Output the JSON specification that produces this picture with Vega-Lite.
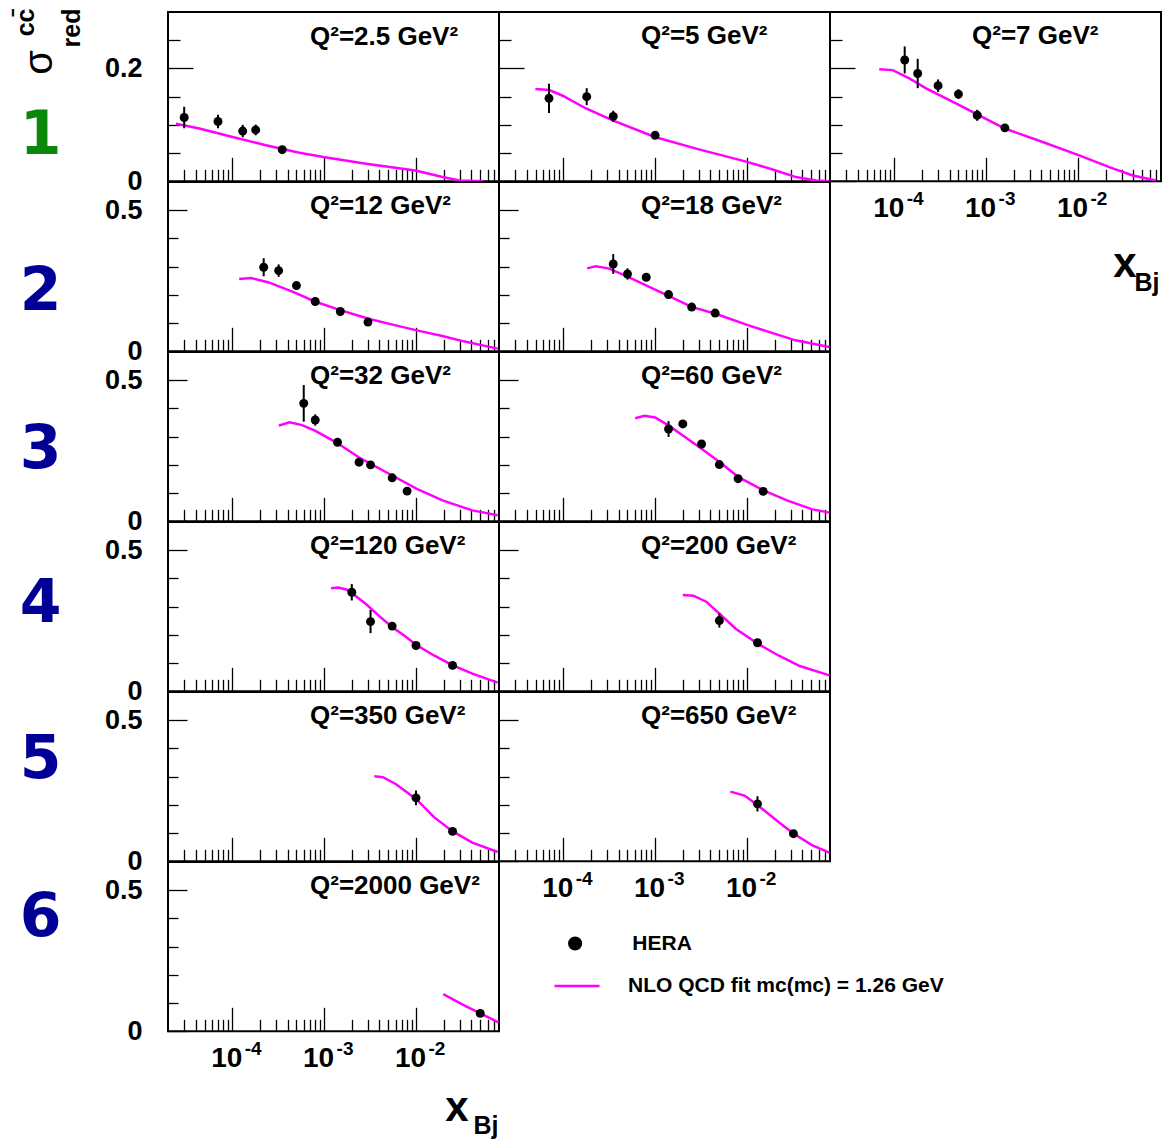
{
  "$schema": "https://vega.github.io/schema/vega-lite/v6.json",
  "background": "white",
  "padding": {"left": 12, "top": 7, "right": 0, "bottom": 0},
  "bounds": "flush",
  "spacing": 0,
  "columns": 3,
  "resolve": {"scale": {"x": "independent", "y": "independent", "fill": "independent", "stroke": "independent"}},
  "datasets": {
    "hera": [
      {"q2": 2.5, "x": 0.00003, "sigma": 0.113, "err": 0.019},
      {"q2": 2.5, "x": 0.00007, "sigma": 0.106, "err": 0.012},
      {"q2": 2.5, "x": 0.00013, "sigma": 0.089, "err": 0.011},
      {"q2": 2.5, "x": 0.00018, "sigma": 0.091, "err": 0.0095},
      {"q2": 2.5, "x": 0.00035, "sigma": 0.056, "err": 0.005},
      {"q2": 5, "x": 0.00007, "sigma": 0.147, "err": 0.026},
      {"q2": 5, "x": 0.00018, "sigma": 0.150, "err": 0.015},
      {"q2": 5, "x": 0.00035, "sigma": 0.115, "err": 0.010},
      {"q2": 5, "x": 0.001, "sigma": 0.0815, "err": 0.006},
      {"q2": 7, "x": 0.00013, "sigma": 0.215, "err": 0.024},
      {"q2": 7, "x": 0.00018, "sigma": 0.191, "err": 0.026},
      {"q2": 7, "x": 0.0003, "sigma": 0.1695, "err": 0.011},
      {"q2": 7, "x": 0.0005, "sigma": 0.1545, "err": 0.0086},
      {"q2": 7, "x": 0.0008, "sigma": 0.117, "err": 0.0098},
      {"q2": 7, "x": 0.0016, "sigma": 0.0947, "err": 0.006},
      {"q2": 12, "x": 0.00022, "sigma": 0.298, "err": 0.032},
      {"q2": 12, "x": 0.00032, "sigma": 0.286, "err": 0.022},
      {"q2": 12, "x": 0.0005, "sigma": 0.233, "err": 0.01},
      {"q2": 12, "x": 0.0008, "sigma": 0.1765, "err": 0.01},
      {"q2": 12, "x": 0.0015, "sigma": 0.141, "err": 0.01},
      {"q2": 12, "x": 0.003, "sigma": 0.1037, "err": 0.01},
      {"q2": 18, "x": 0.00035, "sigma": 0.3095, "err": 0.035},
      {"q2": 18, "x": 0.0005, "sigma": 0.274, "err": 0.02},
      {"q2": 18, "x": 0.0008, "sigma": 0.2625, "err": 0.01},
      {"q2": 18, "x": 0.0014, "sigma": 0.201, "err": 0.01},
      {"q2": 18, "x": 0.0025, "sigma": 0.1567, "err": 0.01},
      {"q2": 18, "x": 0.0045, "sigma": 0.1355, "err": 0.01},
      {"q2": 32, "x": 0.0006, "sigma": 0.418, "err": 0.065},
      {"q2": 32, "x": 0.0008, "sigma": 0.359, "err": 0.02},
      {"q2": 32, "x": 0.0014, "sigma": 0.280, "err": 0.01},
      {"q2": 32, "x": 0.0024, "sigma": 0.2096, "err": 0.01},
      {"q2": 32, "x": 0.0032, "sigma": 0.200, "err": 0.01},
      {"q2": 32, "x": 0.0055, "sigma": 0.154, "err": 0.01},
      {"q2": 32, "x": 0.008, "sigma": 0.107, "err": 0.01},
      {"q2": 60, "x": 0.0014, "sigma": 0.327, "err": 0.028},
      {"q2": 60, "x": 0.002, "sigma": 0.345, "err": 0.012},
      {"q2": 60, "x": 0.0032, "sigma": 0.274, "err": 0.01},
      {"q2": 60, "x": 0.005, "sigma": 0.201, "err": 0.01},
      {"q2": 60, "x": 0.008, "sigma": 0.151, "err": 0.01},
      {"q2": 60, "x": 0.015, "sigma": 0.106, "err": 0.01},
      {"q2": 120, "x": 0.002, "sigma": 0.351, "err": 0.029},
      {"q2": 120, "x": 0.0032, "sigma": 0.247, "err": 0.041},
      {"q2": 120, "x": 0.0055, "sigma": 0.231, "err": 0.01},
      {"q2": 120, "x": 0.01, "sigma": 0.1623, "err": 0.01},
      {"q2": 120, "x": 0.025, "sigma": 0.0918, "err": 0.01},
      {"q2": 200, "x": 0.005, "sigma": 0.2506, "err": 0.025},
      {"q2": 200, "x": 0.013, "sigma": 0.172, "err": 0.01},
      {"q2": 350, "x": 0.01, "sigma": 0.2248, "err": 0.026},
      {"q2": 350, "x": 0.025, "sigma": 0.106, "err": 0.01},
      {"q2": 650, "x": 0.013, "sigma": 0.2036, "err": 0.027},
      {"q2": 650, "x": 0.032, "sigma": 0.0978, "err": 0.01},
      {"q2": 2000, "x": 0.05, "sigma": 0.0635, "err": 0.01}
    ],
    "fit": [
      {"q2": 2.5, "x": 2.44e-5, "sigma": 0.102}, {"q2": 2.5, "x": 4.39e-5, "sigma": 0.0935}, {"q2": 2.5, "x": 1.01e-4, "sigma": 0.0786},
      {"q2": 2.5, "x": 2.33e-4, "sigma": 0.0638}, {"q2": 2.5, "x": 5.37e-4, "sigma": 0.0507}, {"q2": 2.5, "x": 9.79e-4, "sigma": 0.043},
      {"q2": 2.5, "x": 2.86e-3, "sigma": 0.0311}, {"q2": 2.5, "x": 9.82e-3, "sigma": 0.0192}, {"q2": 2.5, "x": 1.95e-2, "sigma": 0.0075},
      {"q2": 2.5, "x": 2.96e-2, "sigma": 0.0014}, {"q2": 2.5, "x": 5.31e-2, "sigma": 0.0},
      {"q2": 5, "x": 4.97e-5, "sigma": 0.1634}, {"q2": 5, "x": 7.05e-5, "sigma": 0.1616}, {"q2": 5, "x": 9.86e-5, "sigma": 0.1516},
      {"q2": 5, "x": 1.77e-4, "sigma": 0.129}, {"q2": 5, "x": 3.45e-4, "sigma": 0.108}, {"q2": 5, "x": 9.95e-4, "sigma": 0.0786},
      {"q2": 5, "x": 2.79e-3, "sigma": 0.0579}, {"q2": 5, "x": 9.57e-3, "sigma": 0.0353}, {"q2": 5, "x": 1.90e-2, "sigma": 0.021},
      {"q2": 5, "x": 3.41e-2, "sigma": 0.0075}, {"q2": 5, "x": 5.62e-2, "sigma": 0.0014}, {"q2": 5, "x": 0.079, "sigma": 0.0},
      {"q2": 7, "x": 6.87e-5, "sigma": 0.1985}, {"q2": 7, "x": 9.62e-5, "sigma": 0.197}, {"q2": 7, "x": 1.46e-4, "sigma": 0.1825},
      {"q2": 7, "x": 2.22e-4, "sigma": 0.1647}, {"q2": 7, "x": 5.11e-4, "sigma": 0.135}, {"q2": 7, "x": 8.09e-4, "sigma": 0.118},
      {"q2": 7, "x": 1.60e-3, "sigma": 0.0935}, {"q2": 7, "x": 4.12e-3, "sigma": 0.0697}, {"q2": 7, "x": 1.03e-2, "sigma": 0.046},
      {"q2": 7, "x": 2.19e-2, "sigma": 0.0252}, {"q2": 7, "x": 3.94e-2, "sigma": 0.0104}, {"q2": 7, "x": 7.05e-2, "sigma": 0.0014},
      {"q2": 12, "x": 1.19e-4, "sigma": 0.2566}, {"q2": 12, "x": 1.60e-4, "sigma": 0.260}, {"q2": 12, "x": 2.45e-4, "sigma": 0.245},
      {"q2": 12, "x": 4.66e-4, "sigma": 0.2096}, {"q2": 12, "x": 7.93e-4, "sigma": 0.1765}, {"q2": 12, "x": 1.47e-3, "sigma": 0.147},
      {"q2": 12, "x": 3.04e-3, "sigma": 0.1154}, {"q2": 12, "x": 6.01e-3, "sigma": 0.0918}, {"q2": 12, "x": 1.02e-2, "sigma": 0.0741},
      {"q2": 12, "x": 1.94e-2, "sigma": 0.0543}, {"q2": 12, "x": 3.30e-2, "sigma": 0.0353}, {"q2": 12, "x": 7.76e-2, "sigma": 0.0095},
      {"q2": 18, "x": 1.82e-4, "sigma": 0.294}, {"q2": 18, "x": 2.25e-4, "sigma": 0.301}, {"q2": 18, "x": 3.10e-4, "sigma": 0.294},
      {"q2": 18, "x": 4.74e-4, "sigma": 0.268}, {"q2": 18, "x": 8.07e-4, "sigma": 0.233}, {"q2": 18, "x": 1.38e-3, "sigma": 0.1976},
      {"q2": 18, "x": 2.53e-3, "sigma": 0.1567}, {"q2": 18, "x": 4.55e-3, "sigma": 0.133}, {"q2": 18, "x": 1.04e-2, "sigma": 0.0918},
      {"q2": 18, "x": 1.98e-2, "sigma": 0.0625}, {"q2": 18, "x": 3.37e-2, "sigma": 0.0388}, {"q2": 18, "x": 7.89e-2, "sigma": 0.0155},
      {"q2": 32, "x": 3.21e-4, "sigma": 0.339}, {"q2": 32, "x": 4.19e-4, "sigma": 0.351}, {"q2": 32, "x": 5.75e-4, "sigma": 0.341},
      {"q2": 32, "x": 7.93e-4, "sigma": 0.321}, {"q2": 32, "x": 1.35e-3, "sigma": 0.280}, {"q2": 32, "x": 2.38e-3, "sigma": 0.227},
      {"q2": 32, "x": 3.21e-3, "sigma": 0.2036}, {"q2": 32, "x": 5.52e-3, "sigma": 0.1623}, {"q2": 32, "x": 1.02e-2, "sigma": 0.115},
      {"q2": 32, "x": 1.94e-2, "sigma": 0.074}, {"q2": 32, "x": 4.10e-2, "sigma": 0.0388}, {"q2": 32, "x": 7.76e-2, "sigma": 0.0212},
      {"q2": 60, "x": 6.07e-4, "sigma": 0.365}, {"q2": 60, "x": 7.66e-4, "sigma": 0.374}, {"q2": 60, "x": 1.00e-3, "sigma": 0.368},
      {"q2": 60, "x": 1.41e-3, "sigma": 0.339}, {"q2": 60, "x": 2.02e-3, "sigma": 0.3035}, {"q2": 60, "x": 3.23e-3, "sigma": 0.2566},
      {"q2": 60, "x": 5.06e-3, "sigma": 0.2096}, {"q2": 60, "x": 8.07e-3, "sigma": 0.1567}, {"q2": 60, "x": 1.51e-2, "sigma": 0.1094},
      {"q2": 60, "x": 2.72e-2, "sigma": 0.074}, {"q2": 60, "x": 5.15e-2, "sigma": 0.0423}, {"q2": 60, "x": 7.89e-2, "sigma": 0.0307},
      {"q2": 120, "x": 1.19e-3, "sigma": 0.365}, {"q2": 120, "x": 1.43e-3, "sigma": 0.368}, {"q2": 120, "x": 1.77e-3, "sigma": 0.360},
      {"q2": 120, "x": 2.00e-3, "sigma": 0.348}, {"q2": 120, "x": 2.85e-3, "sigma": 0.3095}, {"q2": 120, "x": 3.93e-3, "sigma": 0.268},
      {"q2": 120, "x": 5.52e-3, "sigma": 0.227}, {"q2": 120, "x": 7.43e-3, "sigma": 0.1976}, {"q2": 120, "x": 1.00e-2, "sigma": 0.165},
      {"q2": 120, "x": 1.57e-2, "sigma": 0.127}, {"q2": 120, "x": 2.51e-2, "sigma": 0.0918}, {"q2": 120, "x": 4.10e-2, "sigma": 0.0625},
      {"q2": 120, "x": 7.76e-2, "sigma": 0.0307},
      {"q2": 200, "x": 2.00e-3, "sigma": 0.341}, {"q2": 200, "x": 2.61e-3, "sigma": 0.339}, {"q2": 200, "x": 3.60e-3, "sigma": 0.3176},
      {"q2": 200, "x": 5.06e-3, "sigma": 0.274}, {"q2": 200, "x": 7.59e-3, "sigma": 0.221}, {"q2": 200, "x": 1.32e-2, "sigma": 0.168},
      {"q2": 200, "x": 2.20e-2, "sigma": 0.127}, {"q2": 200, "x": 3.75e-2, "sigma": 0.0896}, {"q2": 200, "x": 7.89e-2, "sigma": 0.0565},
      {"q2": 350, "x": 3.52e-3, "sigma": 0.301}, {"q2": 350, "x": 4.36e-3, "sigma": 0.298}, {"q2": 350, "x": 6.01e-3, "sigma": 0.274},
      {"q2": 350, "x": 1.00e-2, "sigma": 0.221}, {"q2": 350, "x": 1.57e-2, "sigma": 0.1565}, {"q2": 350, "x": 2.51e-2, "sigma": 0.106},
      {"q2": 350, "x": 4.10e-2, "sigma": 0.066}, {"q2": 350, "x": 7.76e-2, "sigma": 0.033},
      {"q2": 650, "x": 6.59e-3, "sigma": 0.247}, {"q2": 650, "x": 9.38e-3, "sigma": 0.233}, {"q2": 650, "x": 1.32e-2, "sigma": 0.1976},
      {"q2": 650, "x": 2.20e-2, "sigma": 0.139}, {"q2": 650, "x": 3.23e-2, "sigma": 0.0978}, {"q2": 650, "x": 5.15e-2, "sigma": 0.0565},
      {"q2": 650, "x": 7.89e-2, "sigma": 0.0307},
      {"q2": 2000, "x": 1.98e-2, "sigma": 0.1316}, {"q2": 2000, "x": 3.30e-2, "sigma": 0.0928}, {"q2": 2000, "x": 5.00e-2, "sigma": 0.0635},
      {"q2": 2000, "x": 7.91e-2, "sigma": 0.0318}
    ]
  },
  "concat": [
    {
      "width": 331, "height": 169.3,
      "title": {"text": "Q²=2.5 GeV²", "offset": -42},
      "resolve": {"axis": {"y": "independent"}},
      "encoding": {
        "x": {"field": "x", "type": "quantitative", "scale": {"type": "log", "domain": [0.00002, 0.08], "nice": false},
          "axis": {"values": [0.00003,0.00004,0.00005,0.00006,0.00007,0.00008,0.00009,0.0001,0.0002,0.0003,0.0004,0.0005,0.0006,0.0007,0.0008,0.0009,0.001,0.002,0.003,0.004,0.005,0.006,0.007,0.008,0.009,0.01,0.02,0.03,0.04,0.05,0.06,0.07],
            "tickSize": {"condition": {"test": "datum.value == 0.0001 || datum.value == 0.001 || datum.value == 0.01", "value": -24}, "value": -12},
            "labels": false, "title": null}},
        "y": {"field": "sigma", "type": "quantitative", "scale": {"domain": [0, 0.3], "nice": false},
          "axis": {"orient": "left", "values": [0,0.05,0.1,0.15,0.2,0.25],
            "tickSize": {"condition": {"test": "datum.value == 0 || datum.value == 0.2", "value": -25}, "value": -12},
            "labelExpr": "datum.value == 0 ? '0' : datum.value == 0.2 ? '0.2' : ''", "labelPadding": 51,
            "title": "1", "titleColor": "#0a870a", "titleAngle": 0, "titleAlign": "center", "titleBaseline": "middle", "titleX": -128, "titleY": 123}}
      },
      "layer": [
        {
          "data": {"name": "fit"}, "transform": [{"filter": "datum.q2 == 2.5"}],
          "mark": {"type": "line", "color": "#ff00ff", "strokeWidth": 2.5, "clip": true},
          "encoding": {
            "y": {"field": "sigma", "type": "quantitative",
              "axis": {"orient": "left", "ticks": false, "labels": false, "title": "σ", "titleFont": "Liberation Sans", "titleFontWeight": "normal", "titleFontSize": 40, "titleAngle": 270, "titleAlign": "center", "titleBaseline": "middle", "titleX": -129, "titleY": 50}}
          }
        },
        {
          "data": {"name": "hera"}, "transform": [{"filter": "datum.q2 == 2.5"}],
          "mark": {"type": "errorbar", "color": "black", "thickness": 2},
          "encoding": {
            "y": {"field": "sigma", "type": "quantitative",
              "axis": {"orient": "left", "ticks": false, "labels": false, "title": ["cc̄", "red"], "titleFont": "Liberation Sans", "titleFontSize": 25, "titleAngle": 270, "titleX": -155, "titleY": -4, "titleAlign": "right", "titleBaseline": "top", "titleLineHeight": 46}},
            "yError": {"field": "err"}
          }
        },
        {
          "data": {"name": "hera"}, "transform": [{"filter": "datum.q2 == 2.5"}],
          "mark": {"type": "point", "filled": true, "color": "black", "size": 80, "opacity": 1}
        }
      ]
    },
    {
      "width": 331, "height": 169.3,
      "title": "Q²=5 GeV²",
      "encoding": {
        "x": {"field": "x", "type": "quantitative", "scale": {"type": "log", "domain": [0.00002, 0.08], "nice": false},
          "axis": {"values": [0.00003,0.00004,0.00005,0.00006,0.00007,0.00008,0.00009,0.0001,0.0002,0.0003,0.0004,0.0005,0.0006,0.0007,0.0008,0.0009,0.001,0.002,0.003,0.004,0.005,0.006,0.007,0.008,0.009,0.01,0.02,0.03,0.04,0.05,0.06,0.07],
            "tickSize": {"condition": {"test": "datum.value == 0.0001 || datum.value == 0.001 || datum.value == 0.01", "value": -24}, "value": -12},
            "labels": false, "title": null}},
        "y": {"field": "sigma", "type": "quantitative", "scale": {"domain": [0, 0.3], "nice": false},
          "axis": {"values": [0,0.05,0.1,0.15,0.2,0.25],
            "tickSize": {"condition": {"test": "datum.value == 0 || datum.value == 0.2", "value": -25}, "value": -12},
            "labels": false, "title": null}}
      },
      "layer": [
        {"data": {"name": "fit"}, "transform": [{"filter": "datum.q2 == 5"}], "mark": {"type": "line", "color": "#ff00ff", "strokeWidth": 2.5, "clip": true}},
        {"data": {"name": "hera"}, "transform": [{"filter": "datum.q2 == 5"}], "mark": {"type": "errorbar", "color": "black", "thickness": 2}, "encoding": {"yError": {"field": "err"}}},
        {"data": {"name": "hera"}, "transform": [{"filter": "datum.q2 == 5"}], "mark": {"type": "point", "filled": true, "color": "black", "size": 80, "opacity": 1}}
      ]
    },
    {
      "width": 331, "height": 169.3,
      "title": "Q²=7 GeV²",
      "resolve": {"axis": {"x": "independent"}},
      "encoding": {
        "x": {"field": "x", "type": "quantitative", "scale": {"type": "log", "domain": [0.00002, 0.08], "nice": false},
          "axis": {"orient": "bottom", "values": [0.00003,0.00004,0.00005,0.00006,0.00007,0.00008,0.00009,0.0001,0.0002,0.0003,0.0004,0.0005,0.0006,0.0007,0.0008,0.0009,0.001,0.002,0.003,0.004,0.005,0.006,0.007,0.008,0.009,0.01,0.02,0.03,0.04,0.05,0.06,0.07],
            "tickSize": {"condition": {"test": "datum.value == 0.0001 || datum.value == 0.001 || datum.value == 0.01", "value": -24}, "value": -12},
            "labelExpr": "datum.value == 0.0001 || datum.value == 0.001 || datum.value == 0.01 ? '10' : ''", "labelOffset": -6,
            "title": "x", "titleFontSize": 42, "titleX": 306, "titleY": 95}},
        "y": {"field": "sigma", "type": "quantitative", "scale": {"domain": [0, 0.3], "nice": false},
          "axis": {"values": [0,0.05,0.1,0.15,0.2,0.25],
            "tickSize": {"condition": {"test": "datum.value == 0 || datum.value == 0.2", "value": -25}, "value": -12},
            "labels": false, "title": null}}
      },
      "layer": [
        {
          "data": {"name": "fit"}, "transform": [{"filter": "datum.q2 == 7"}],
          "mark": {"type": "line", "color": "#ff00ff", "strokeWidth": 2.5, "clip": true},
          "encoding": {
            "x": {"field": "x", "type": "quantitative",
              "axis": {"orient": "bottom", "ticks": false, "values": [0.0001, 0.001, 0.01],
                "labelExpr": "datum.value == 0.0001 ? '-4' : datum.value == 0.001 ? '-3' : '-2'",
                "labelFontSize": 19, "labelAlign": "left", "labelBaseline": "top", "labelOffset": 12, "labelPadding": 8,
                "title": "Bj", "titleFontSize": 25, "titleX": 329, "titleY": 109}}
          }
        },
        {
          "data": {"name": "hera"}, "transform": [{"filter": "datum.q2 == 7"}],
          "mark": {"type": "errorbar", "color": "black", "thickness": 2},
          "encoding": {"x": {"field": "x", "type": "quantitative", "axis": null}, "yError": {"field": "err"}}
        },
        {"data": {"name": "hera"}, "transform": [{"filter": "datum.q2 == 7"}], "mark": {"type": "point", "filled": true, "color": "black", "size": 80, "opacity": 1}}
      ]
    },
    {
      "width": 331, "height": 169.3,
      "title": "Q²=12 GeV²",
      "encoding": {
        "x": {"field": "x", "type": "quantitative", "scale": {"type": "log", "domain": [0.00002, 0.08], "nice": false},
          "axis": {"values": [0.00003,0.00004,0.00005,0.00006,0.00007,0.00008,0.00009,0.0001,0.0002,0.0003,0.0004,0.0005,0.0006,0.0007,0.0008,0.0009,0.001,0.002,0.003,0.004,0.005,0.006,0.007,0.008,0.009,0.01,0.02,0.03,0.04,0.05,0.06,0.07],
            "tickSize": {"condition": {"test": "datum.value == 0.0001 || datum.value == 0.001 || datum.value == 0.01", "value": -24}, "value": -12},
            "labels": false, "title": null}},
        "y": {"field": "sigma", "type": "quantitative", "scale": {"domain": [0, 0.6], "nice": false},
          "axis": {"values": [0,0.1,0.2,0.3,0.4,0.5],
            "tickSize": {"condition": {"test": "datum.value == 0 || datum.value == 0.5", "value": -19}, "value": -10},
            "labelExpr": "datum.value == 0 ? '0' : datum.value == 0.5 ? '0.5' : ''", "labelPadding": 45,
            "title": "2", "titleColor": "#000096", "titleAngle": 0, "titleAlign": "center", "titleBaseline": "middle", "titleX": -128, "titleY": 109}}
      },
      "layer": [
        {"data": {"name": "fit"}, "transform": [{"filter": "datum.q2 == 12"}], "mark": {"type": "line", "color": "#ff00ff", "strokeWidth": 2.5, "clip": true}},
        {"data": {"name": "hera"}, "transform": [{"filter": "datum.q2 == 12"}], "mark": {"type": "errorbar", "color": "black", "thickness": 2}, "encoding": {"yError": {"field": "err"}}},
        {"data": {"name": "hera"}, "transform": [{"filter": "datum.q2 == 12"}], "mark": {"type": "point", "filled": true, "color": "black", "size": 80, "opacity": 1}}
      ]
    },
    {
      "width": 331, "height": 169.3,
      "title": "Q²=18 GeV²",
      "encoding": {
        "x": {"field": "x", "type": "quantitative", "scale": {"type": "log", "domain": [0.00002, 0.08], "nice": false},
          "axis": {"values": [0.00003,0.00004,0.00005,0.00006,0.00007,0.00008,0.00009,0.0001,0.0002,0.0003,0.0004,0.0005,0.0006,0.0007,0.0008,0.0009,0.001,0.002,0.003,0.004,0.005,0.006,0.007,0.008,0.009,0.01,0.02,0.03,0.04,0.05,0.06,0.07],
            "tickSize": {"condition": {"test": "datum.value == 0.0001 || datum.value == 0.001 || datum.value == 0.01", "value": -24}, "value": -12},
            "labels": false, "title": null}},
        "y": {"field": "sigma", "type": "quantitative", "scale": {"domain": [0, 0.6], "nice": false},
          "axis": {"values": [0,0.1,0.2,0.3,0.4,0.5],
            "tickSize": {"condition": {"test": "datum.value == 0 || datum.value == 0.5", "value": -19}, "value": -10},
            "labels": false, "title": null}}
      },
      "layer": [
        {"data": {"name": "fit"}, "transform": [{"filter": "datum.q2 == 18"}], "mark": {"type": "line", "color": "#ff00ff", "strokeWidth": 2.5, "clip": true}},
        {"data": {"name": "hera"}, "transform": [{"filter": "datum.q2 == 18"}], "mark": {"type": "errorbar", "color": "black", "thickness": 2}, "encoding": {"yError": {"field": "err"}}},
        {"data": {"name": "hera"}, "transform": [{"filter": "datum.q2 == 18"}], "mark": {"type": "point", "filled": true, "color": "black", "size": 80, "opacity": 1}}
      ]
    },
    {"width": 331, "height": 169.3, "view": {"stroke": null}, "data": {"values": []}, "mark": "point"},
    {
      "width": 331, "height": 169.3,
      "title": "Q²=32 GeV²",
      "encoding": {
        "x": {"field": "x", "type": "quantitative", "scale": {"type": "log", "domain": [0.00002, 0.08], "nice": false},
          "axis": {"values": [0.00003,0.00004,0.00005,0.00006,0.00007,0.00008,0.00009,0.0001,0.0002,0.0003,0.0004,0.0005,0.0006,0.0007,0.0008,0.0009,0.001,0.002,0.003,0.004,0.005,0.006,0.007,0.008,0.009,0.01,0.02,0.03,0.04,0.05,0.06,0.07],
            "tickSize": {"condition": {"test": "datum.value == 0.0001 || datum.value == 0.001 || datum.value == 0.01", "value": -24}, "value": -12},
            "labels": false, "title": null}},
        "y": {"field": "sigma", "type": "quantitative", "scale": {"domain": [0, 0.6], "nice": false},
          "axis": {"values": [0,0.1,0.2,0.3,0.4,0.5],
            "tickSize": {"condition": {"test": "datum.value == 0 || datum.value == 0.5", "value": -19}, "value": -10},
            "labelExpr": "datum.value == 0 ? '0' : datum.value == 0.5 ? '0.5' : ''", "labelPadding": 45,
            "title": "3", "titleColor": "#000096", "titleAngle": 0, "titleAlign": "center", "titleBaseline": "middle", "titleX": -128, "titleY": 97}}
      },
      "layer": [
        {"data": {"name": "fit"}, "transform": [{"filter": "datum.q2 == 32"}], "mark": {"type": "line", "color": "#ff00ff", "strokeWidth": 2.5, "clip": true}},
        {"data": {"name": "hera"}, "transform": [{"filter": "datum.q2 == 32"}], "mark": {"type": "errorbar", "color": "black", "thickness": 2}, "encoding": {"yError": {"field": "err"}}},
        {"data": {"name": "hera"}, "transform": [{"filter": "datum.q2 == 32"}], "mark": {"type": "point", "filled": true, "color": "black", "size": 80, "opacity": 1}}
      ]
    },
    {
      "width": 331, "height": 169.3,
      "title": "Q²=60 GeV²",
      "encoding": {
        "x": {"field": "x", "type": "quantitative", "scale": {"type": "log", "domain": [0.00002, 0.08], "nice": false},
          "axis": {"values": [0.00003,0.00004,0.00005,0.00006,0.00007,0.00008,0.00009,0.0001,0.0002,0.0003,0.0004,0.0005,0.0006,0.0007,0.0008,0.0009,0.001,0.002,0.003,0.004,0.005,0.006,0.007,0.008,0.009,0.01,0.02,0.03,0.04,0.05,0.06,0.07],
            "tickSize": {"condition": {"test": "datum.value == 0.0001 || datum.value == 0.001 || datum.value == 0.01", "value": -24}, "value": -12},
            "labels": false, "title": null}},
        "y": {"field": "sigma", "type": "quantitative", "scale": {"domain": [0, 0.6], "nice": false},
          "axis": {"values": [0,0.1,0.2,0.3,0.4,0.5],
            "tickSize": {"condition": {"test": "datum.value == 0 || datum.value == 0.5", "value": -19}, "value": -10},
            "labels": false, "title": null}}
      },
      "layer": [
        {"data": {"name": "fit"}, "transform": [{"filter": "datum.q2 == 60"}], "mark": {"type": "line", "color": "#ff00ff", "strokeWidth": 2.5, "clip": true}},
        {"data": {"name": "hera"}, "transform": [{"filter": "datum.q2 == 60"}], "mark": {"type": "errorbar", "color": "black", "thickness": 2}, "encoding": {"yError": {"field": "err"}}},
        {"data": {"name": "hera"}, "transform": [{"filter": "datum.q2 == 60"}], "mark": {"type": "point", "filled": true, "color": "black", "size": 80, "opacity": 1}}
      ]
    },
    {"width": 331, "height": 169.3, "view": {"stroke": null}, "data": {"values": []}, "mark": "point"},
    {
      "width": 331, "height": 169.3,
      "title": "Q²=120 GeV²",
      "encoding": {
        "x": {"field": "x", "type": "quantitative", "scale": {"type": "log", "domain": [0.00002, 0.08], "nice": false},
          "axis": {"values": [0.00003,0.00004,0.00005,0.00006,0.00007,0.00008,0.00009,0.0001,0.0002,0.0003,0.0004,0.0005,0.0006,0.0007,0.0008,0.0009,0.001,0.002,0.003,0.004,0.005,0.006,0.007,0.008,0.009,0.01,0.02,0.03,0.04,0.05,0.06,0.07],
            "tickSize": {"condition": {"test": "datum.value == 0.0001 || datum.value == 0.001 || datum.value == 0.01", "value": -24}, "value": -12},
            "labels": false, "title": null}},
        "y": {"field": "sigma", "type": "quantitative", "scale": {"domain": [0, 0.6], "nice": false},
          "axis": {"values": [0,0.1,0.2,0.3,0.4,0.5],
            "tickSize": {"condition": {"test": "datum.value == 0 || datum.value == 0.5", "value": -19}, "value": -10},
            "labelExpr": "datum.value == 0 ? '0' : datum.value == 0.5 ? '0.5' : ''", "labelPadding": 45,
            "title": "4", "titleColor": "#000096", "titleAngle": 0, "titleAlign": "center", "titleBaseline": "middle", "titleX": -128, "titleY": 81}}
      },
      "layer": [
        {"data": {"name": "fit"}, "transform": [{"filter": "datum.q2 == 120"}], "mark": {"type": "line", "color": "#ff00ff", "strokeWidth": 2.5, "clip": true}},
        {"data": {"name": "hera"}, "transform": [{"filter": "datum.q2 == 120"}], "mark": {"type": "errorbar", "color": "black", "thickness": 2}, "encoding": {"yError": {"field": "err"}}},
        {"data": {"name": "hera"}, "transform": [{"filter": "datum.q2 == 120"}], "mark": {"type": "point", "filled": true, "color": "black", "size": 80, "opacity": 1}}
      ]
    },
    {
      "width": 331, "height": 169.3,
      "title": "Q²=200 GeV²",
      "encoding": {
        "x": {"field": "x", "type": "quantitative", "scale": {"type": "log", "domain": [0.00002, 0.08], "nice": false},
          "axis": {"values": [0.00003,0.00004,0.00005,0.00006,0.00007,0.00008,0.00009,0.0001,0.0002,0.0003,0.0004,0.0005,0.0006,0.0007,0.0008,0.0009,0.001,0.002,0.003,0.004,0.005,0.006,0.007,0.008,0.009,0.01,0.02,0.03,0.04,0.05,0.06,0.07],
            "tickSize": {"condition": {"test": "datum.value == 0.0001 || datum.value == 0.001 || datum.value == 0.01", "value": -24}, "value": -12},
            "labels": false, "title": null}},
        "y": {"field": "sigma", "type": "quantitative", "scale": {"domain": [0, 0.6], "nice": false},
          "axis": {"values": [0,0.1,0.2,0.3,0.4,0.5],
            "tickSize": {"condition": {"test": "datum.value == 0 || datum.value == 0.5", "value": -19}, "value": -10},
            "labels": false, "title": null}}
      },
      "layer": [
        {"data": {"name": "fit"}, "transform": [{"filter": "datum.q2 == 200"}], "mark": {"type": "line", "color": "#ff00ff", "strokeWidth": 2.5, "clip": true}},
        {"data": {"name": "hera"}, "transform": [{"filter": "datum.q2 == 200"}], "mark": {"type": "errorbar", "color": "black", "thickness": 2}, "encoding": {"yError": {"field": "err"}}},
        {"data": {"name": "hera"}, "transform": [{"filter": "datum.q2 == 200"}], "mark": {"type": "point", "filled": true, "color": "black", "size": 80, "opacity": 1}}
      ]
    },
    {"width": 331, "height": 169.3, "view": {"stroke": null}, "data": {"values": []}, "mark": "point"},
    {
      "width": 331, "height": 169.3,
      "title": "Q²=350 GeV²",
      "encoding": {
        "x": {"field": "x", "type": "quantitative", "scale": {"type": "log", "domain": [0.00002, 0.08], "nice": false},
          "axis": {"values": [0.00003,0.00004,0.00005,0.00006,0.00007,0.00008,0.00009,0.0001,0.0002,0.0003,0.0004,0.0005,0.0006,0.0007,0.0008,0.0009,0.001,0.002,0.003,0.004,0.005,0.006,0.007,0.008,0.009,0.01,0.02,0.03,0.04,0.05,0.06,0.07],
            "tickSize": {"condition": {"test": "datum.value == 0.0001 || datum.value == 0.001 || datum.value == 0.01", "value": -24}, "value": -12},
            "labels": false, "title": null}},
        "y": {"field": "sigma", "type": "quantitative", "scale": {"domain": [0, 0.6], "nice": false},
          "axis": {"values": [0,0.1,0.2,0.3,0.4,0.5],
            "tickSize": {"condition": {"test": "datum.value == 0 || datum.value == 0.5", "value": -19}, "value": -10},
            "labelExpr": "datum.value == 0 ? '0' : datum.value == 0.5 ? '0.5' : ''", "labelPadding": 45,
            "title": "5", "titleColor": "#000096", "titleAngle": 0, "titleAlign": "center", "titleBaseline": "middle", "titleX": -128, "titleY": 67}}
      },
      "layer": [
        {"data": {"name": "fit"}, "transform": [{"filter": "datum.q2 == 350"}], "mark": {"type": "line", "color": "#ff00ff", "strokeWidth": 2.5, "clip": true}},
        {"data": {"name": "hera"}, "transform": [{"filter": "datum.q2 == 350"}], "mark": {"type": "errorbar", "color": "black", "thickness": 2}, "encoding": {"yError": {"field": "err"}}},
        {"data": {"name": "hera"}, "transform": [{"filter": "datum.q2 == 350"}], "mark": {"type": "point", "filled": true, "color": "black", "size": 80, "opacity": 1}}
      ]
    },
    {
      "width": 331, "height": 169.3,
      "title": "Q²=650 GeV²",
      "resolve": {"axis": {"x": "independent"}},
      "encoding": {
        "x": {"field": "x", "type": "quantitative", "scale": {"type": "log", "domain": [0.00002, 0.08], "nice": false},
          "axis": {"orient": "bottom", "values": [0.00003,0.00004,0.00005,0.00006,0.00007,0.00008,0.00009,0.0001,0.0002,0.0003,0.0004,0.0005,0.0006,0.0007,0.0008,0.0009,0.001,0.002,0.003,0.004,0.005,0.006,0.007,0.008,0.009,0.01,0.02,0.03,0.04,0.05,0.06,0.07],
            "tickSize": {"condition": {"test": "datum.value == 0.0001 || datum.value == 0.001 || datum.value == 0.01", "value": -24}, "value": -12},
            "labelExpr": "datum.value == 0.0001 || datum.value == 0.001 || datum.value == 0.01 ? '10' : ''", "labelOffset": -6,
            "title": null}},
        "y": {"field": "sigma", "type": "quantitative", "scale": {"domain": [0, 0.6], "nice": false},
          "axis": {"values": [0,0.1,0.2,0.3,0.4,0.5],
            "tickSize": {"condition": {"test": "datum.value == 0 || datum.value == 0.5", "value": -19}, "value": -10},
            "labels": false, "title": null}}
      },
      "layer": [
        {
          "data": {"name": "fit"}, "transform": [{"filter": "datum.q2 == 650"}],
          "mark": {"type": "line", "strokeWidth": 2.5, "clip": true},
          "encoding": {
            "x": {"field": "x", "type": "quantitative",
              "axis": {"orient": "bottom", "ticks": false, "values": [0.0001, 0.001, 0.01],
                "labelExpr": "datum.value == 0.0001 ? '-4' : datum.value == 0.001 ? '-3' : '-2'",
                "labelFontSize": 19, "labelAlign": "left", "labelBaseline": "top", "labelOffset": 12, "labelPadding": 8,
                "title": null}},
            "stroke": {"datum": "NLO QCD fit mc(mc) = 1.26 GeV", "type": "nominal",
              "scale": {"range": ["#ff00ff"]},
              "legend": {"title": null, "orient": "none", "legendX": 54, "legendY": 270, "symbolType": "stroke", "symbolSize": 2025,
                "symbolStrokeWidth": 2.5, "labelOffset": 27}}
          }
        },
        {
          "data": {"name": "hera"}, "transform": [{"filter": "datum.q2 == 650"}],
          "mark": {"type": "errorbar", "color": "black", "thickness": 2},
          "encoding": {"x": {"field": "x", "type": "quantitative", "axis": null}, "yError": {"field": "err"}}
        },
        {
          "data": {"name": "hera"}, "transform": [{"filter": "datum.q2 == 650"}],
          "mark": {"type": "point", "filled": true, "size": 80, "opacity": 1},
          "encoding": {
            "fill": {"datum": "HERA", "type": "nominal",
              "scale": {"range": ["black"]},
              "legend": {"title": null, "orient": "none", "legendX": 65.6, "legendY": 241, "symbolType": "circle", "symbolSize": 200,
                "symbolStrokeWidth": 0, "labelOffset": 46.7}}
          }
        }
      ]
    },
    {"width": 331, "height": 169.3, "view": {"stroke": null}, "data": {"values": []}, "mark": "point"},
    {
      "width": 331, "height": 169.3,
      "title": "Q²=2000 GeV²",
      "resolve": {"axis": {"x": "independent"}},
      "encoding": {
        "x": {"field": "x", "type": "quantitative", "scale": {"type": "log", "domain": [0.00002, 0.08], "nice": false},
          "axis": {"orient": "bottom", "values": [0.00003,0.00004,0.00005,0.00006,0.00007,0.00008,0.00009,0.0001,0.0002,0.0003,0.0004,0.0005,0.0006,0.0007,0.0008,0.0009,0.001,0.002,0.003,0.004,0.005,0.006,0.007,0.008,0.009,0.01,0.02,0.03,0.04,0.05,0.06,0.07],
            "tickSize": {"condition": {"test": "datum.value == 0.0001 || datum.value == 0.001 || datum.value == 0.01", "value": -24}, "value": -12},
            "labelExpr": "datum.value == 0.0001 || datum.value == 0.001 || datum.value == 0.01 ? '10' : ''", "labelOffset": -6,
            "title": "x", "titleFontSize": 42, "titleX": 300, "titleY": 89}},
        "y": {"field": "sigma", "type": "quantitative", "scale": {"domain": [0, 0.6], "nice": false},
          "axis": {"values": [0,0.1,0.2,0.3,0.4,0.5],
            "tickSize": {"condition": {"test": "datum.value == 0 || datum.value == 0.5", "value": -19}, "value": -10},
            "labelExpr": "datum.value == 0 ? '0' : datum.value == 0.5 ? '0.5' : ''", "labelPadding": 45,
            "title": "6", "titleColor": "#000096", "titleAngle": 0, "titleAlign": "center", "titleBaseline": "middle", "titleX": -128, "titleY": 55}}
      },
      "layer": [
        {
          "data": {"name": "fit"}, "transform": [{"filter": "datum.q2 == 2000"}],
          "mark": {"type": "line", "color": "#ff00ff", "strokeWidth": 2.5, "clip": true},
          "encoding": {
            "x": {"field": "x", "type": "quantitative",
              "axis": {"orient": "bottom", "ticks": false, "values": [0.0001, 0.001, 0.01],
                "labelExpr": "datum.value == 0.0001 ? '-4' : datum.value == 0.001 ? '-3' : '-2'",
                "labelFontSize": 19, "labelAlign": "left", "labelBaseline": "top", "labelOffset": 12, "labelPadding": 8,
                "title": "Bj", "titleFontSize": 25, "titleX": 330, "titleY": 102}}
          }
        },
        {
          "data": {"name": "hera"}, "transform": [{"filter": "datum.q2 == 2000"}],
          "mark": {"type": "errorbar", "color": "black", "thickness": 2},
          "encoding": {"x": {"field": "x", "type": "quantitative", "axis": null}, "yError": {"field": "err"}}
        },
        {"data": {"name": "hera"}, "transform": [{"filter": "datum.q2 == 2000"}], "mark": {"type": "point", "filled": true, "color": "black", "size": 80, "opacity": 1}}
      ]
    }
  ],
  "config": {
    "font": "Liberation Sans",
    "view": {"stroke": "black", "strokeWidth": 2},
    "axis": {"domain": false, "grid": false, "tickColor": "black", "tickWidth": 1.3,
      "labelFont": "Liberation Sans", "labelFontWeight": "bold", "labelColor": "black", "labelOverlap": false, "labelFlush": false,
      "titleColor": "black"},
    "axisX": {"labelFontSize": 28, "labelPadding": 37, "titleFont": "Liberation Sans", "titleFontWeight": "bold", "titleAlign": "right", "titleBaseline": "alphabetic"},
    "axisY": {"labelFontSize": 27, "titleFont": "DejaVu Sans", "titleFontWeight": "bold", "titleFontSize": 60},
    "legend": {"padding": 0, "labelFont": "Liberation Sans", "labelFontSize": 21, "labelFontWeight": "bold", "labelColor": "black", "labelLimit": 500, "symbolOpacity": 1},
    "title": {"anchor": "start", "frame": "group", "dx": 142, "offset": -37, "baseline": "alphabetic", "font": "Liberation Sans", "fontSize": 26, "fontWeight": "bold", "color": "black"}
  }
}
